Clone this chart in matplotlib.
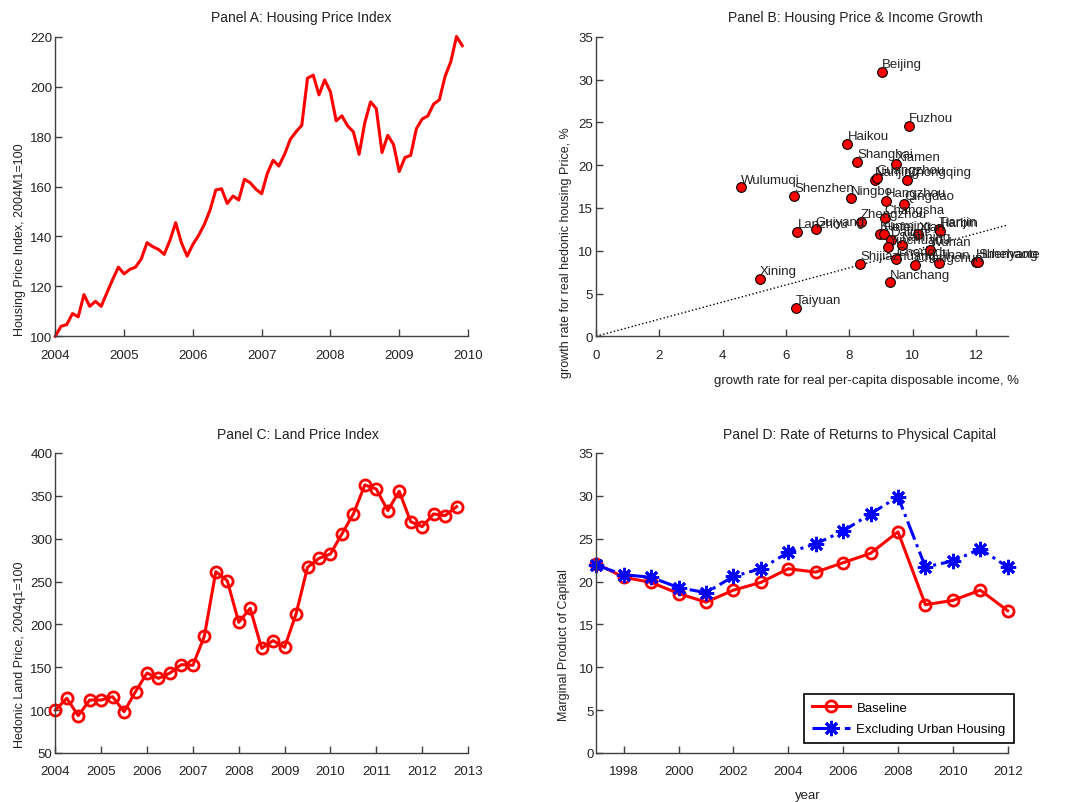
import numpy as np
import matplotlib.pyplot as plt

plt.rcParams['font.family'] = ['Liberation Sans', 'DejaVu Sans']

# Panel A: monthly housing price index, 2004M1 = 100
hpi = [100.0, 104.0, 104.7, 109.1, 107.8, 116.7, 112.0, 114.0, 112.0, 117.4, 122.7, 127.7,
       125.0, 126.8, 127.7, 131.0, 137.5, 135.9, 134.8, 132.8, 138.4, 145.5, 137.5, 132.1,
       136.8, 140.4, 144.8, 150.6, 158.6, 159.1, 153.2, 156.2, 154.6, 162.9, 161.5, 158.9,
       157.1, 165.3, 170.5, 168.2, 172.9, 178.9, 181.9, 184.5, 203.4, 204.6, 196.7, 202.7,
       197.9, 186.3, 188.3, 184.3, 181.9, 172.9, 185.6, 193.9, 191.2, 173.6, 180.5, 176.9,
       166.0, 171.6, 172.5, 183.2, 187.0, 188.3, 193.0, 194.7, 204.1, 210.0, 220.1, 216.4]
hpi_start = 2004

# Panel B: city growth rates (%)
cities = ['Beijing', 'Fuzhou', 'Haikou', 'Shanghai', 'Xiamen', 'Nanjing', 'Guangzhou',
          'Chongqing', 'Wulumuqi', 'Shenzhen', 'Ningbo', 'Hangzhou', 'Qingdao', 'Changsha',
          'Zhengzhou', 'Guiyang', 'Lanzhou', 'Kunming', 'Hefei', 'Xian', 'Tianjin', 'Harbin',
          'Dalian', 'Yinchuan', 'Nanning', 'Wuhan', 'Chengdu', 'Changchun', 'Jinan',
          'Huhehaote', 'Shenyang', 'Shijiazhuang', 'Nanchang', 'Xining', 'Taiyuan']
income_growth = [9.03, 9.87, 7.94, 8.25, 9.46, 8.81, 8.86,
                 9.83, 4.57, 6.25, 8.05, 9.15, 9.74, 9.11,
                 8.36, 6.94, 6.36, 8.97, 9.10, 10.18, 10.83, 10.87,
                 9.31, 9.23, 9.65, 10.55, 9.47, 10.07, 10.84,
                 12.00, 12.07, 8.34, 9.28, 5.18, 6.32]
price_growth = [30.9, 24.6, 22.5, 20.4, 20.1, 18.3, 18.5,
                18.3, 17.4, 16.4, 16.1, 15.8, 15.5, 13.8,
                13.4, 12.5, 12.2, 12.0, 11.9, 11.9, 12.5, 12.3,
                11.3, 10.4, 10.7, 10.1, 9.0, 8.3, 8.6,
                8.7, 8.7, 8.45, 6.3, 6.7, 3.3]
diag = [0, 13]

# Panel C: quarterly land price index, 2004q1 = 100
land_price = [100.0, 113.8, 93.6, 111.8, 111.8, 115.7, 98.2, 121.6, 143.3, 137.1, 143.3, 153.1,
              152.3, 186.1, 261.6, 251.1, 202.5, 218.8, 172.1, 181.1, 173.3, 212.2, 266.6, 277.1,
              282.2, 305.5, 328.9, 362.7, 358.0, 332.8, 355.3, 319.9, 314.1, 328.9, 326.9, 337.4]
land_start = 2004

# Panel D: marginal product of capital (%)
years = list(range(1997, 2013))
mpk_base = [22.1, 20.5, 19.9, 18.6, 17.6, 19.0, 19.9, 21.5, 21.1, 22.2, 23.3, 25.8,
            17.3, 17.8, 19.0, 16.6]
mpk_excl = [21.9, 20.8, 20.5, 19.3, 18.7, 20.6, 21.5, 23.4, 24.4, 25.9, 27.9, 29.9,
            21.7, 22.4, 23.8, 21.7]

AXC = '#404040'
TXT = '#222222'


def matlab_axes(ax):
    for s in ['top', 'right']:
        ax.spines[s].set_visible(False)
    for s in ['left', 'bottom']:
        ax.spines[s].set_color(AXC)
        ax.spines[s].set_linewidth(1.0)
    ax.tick_params(direction='in', length=5, width=1, color=AXC,
                   labelsize=9.5, labelcolor=TXT)
    ax.tick_params(axis='x', pad=9)
    ax.tick_params(axis='y', pad=2)


def title(ax, s, x, y):
    ax.text(x, y, s, transform=ax.transAxes, ha='center', va='center',
            fontsize=10, color=TXT)


fig = plt.figure(figsize=(10.81, 8.03), dpi=100)
W, H = 1081.0, 803.0

# ---- Panel A
axA = fig.add_axes([55.3 / W, (H - 337.3) / H, 412.7 / W, 299.6 / H])
xa = hpi_start + np.arange(len(hpi)) / 12.0
axA.plot(xa, hpi, color='red', lw=2.2, clip_on=False)
axA.set_xlim(2004, 2010)
axA.set_ylim(100, 220)
axA.set_xticks(range(2004, 2011))
axA.set_yticks(range(100, 221, 20))
matlab_axes(axA)
axA.set_ylabel('Housing Price Index, 2004M1=100', fontsize=9, color=TXT)
axA.yaxis.set_label_coords(-0.07, 0.326)
title(axA, 'Panel A: Housing Price Index', 0.595, 1.067)

# ---- Panel B
axB = fig.add_axes([596.0 / W, (H - 337.3) / H, 411.7 / W, 299.6 / H])
axB.plot(diag, diag, color='black', ls=':', lw=1)
axB.plot(income_growth, price_growth, 'o', ms=7, mfc='red', mec='black', mew=0.8)
for name, gx, gy in zip(cities, income_growth, price_growth):
    axB.text(gx, gy + 0.9, name, ha='left', va='center', fontsize=9.5, color=TXT)
axB.set_xlim(0, 13)
axB.set_ylim(0, 35)
axB.set_xticks(range(0, 13, 2))
axB.set_yticks(range(0, 36, 5))
matlab_axes(axB)
axB.set_ylabel('growth rate for real hedonic housing Price, %', fontsize=9, color=TXT)
axB.yaxis.set_label_coords(-0.058, 0.281)
axB.set_xlabel('growth rate for real per-capita disposable income, %', fontsize=9.5, color=TXT)
axB.xaxis.set_label_coords(0.657, -0.125)
title(axB, 'Panel B: Housing Price & Income Growth', 0.63, 1.067)

# ---- Panel C
axC = fig.add_axes([55.3 / W, (H - 754.0) / H, 412.7 / W, 300.0 / H])
xc = land_start + np.arange(len(land_price)) / 4.0
axC.plot(xc, land_price, '-o', color='red', lw=2.2, ms=8, mfc='none', mew=2,
         clip_on=False)
axC.set_xlim(2004, 2013)
axC.set_ylim(50, 400)
axC.set_xticks(range(2004, 2014))
axC.set_yticks(range(50, 401, 50))
matlab_axes(axC)
axC.set_ylabel('Hedonic Land Price, 2004q1=100', fontsize=9, color=TXT)
axC.yaxis.set_label_coords(-0.07, 0.33)
title(axC, 'Panel C: Land Price Index', 0.587, 1.064)

# ---- Panel D
axD = fig.add_axes([596.3 / W, (H - 754.0) / H, 411.4 / W, 300.0 / H])
axD.plot(years, mpk_base, '-o', color='red', lw=2.2, ms=8, mfc='none', mew=2,
         label='Baseline', clip_on=False)
axD.plot(years, mpk_excl, '-.', color='blue', lw=2.2, marker=(8, 2, 0), ms=11, mew=2,
         label='Excluding Urban Housing', clip_on=False)
axD.set_xlim(1997, 2012)
axD.set_ylim(0, 35)
axD.set_xticks(range(1998, 2013, 2))
axD.set_yticks(range(0, 36, 5))
matlab_axes(axD)
axD.set_ylabel('Marginal Product of Capital', fontsize=9, color=TXT)
axD.yaxis.set_label_coords(-0.063, 0.363)
axD.set_xlabel('year', fontsize=9.5, color=TXT)
axD.xaxis.set_label_coords(0.514, -0.12)
leg = axD.legend(loc='lower left', bbox_to_anchor=(0.504, 0.032), borderaxespad=0,
                 fontsize=9.5, frameon=True, fancybox=False, framealpha=1,
                 edgecolor='black', handlelength=2.9, handletextpad=0.5,
                 borderpad=0.6, labelspacing=0.7)
leg.get_frame().set_linewidth(1.2)
title(axD, 'Panel D: Rate of Returns to Physical Capital', 0.641, 1.064)

fig.savefig('out.png', dpi=100, facecolor='white')
